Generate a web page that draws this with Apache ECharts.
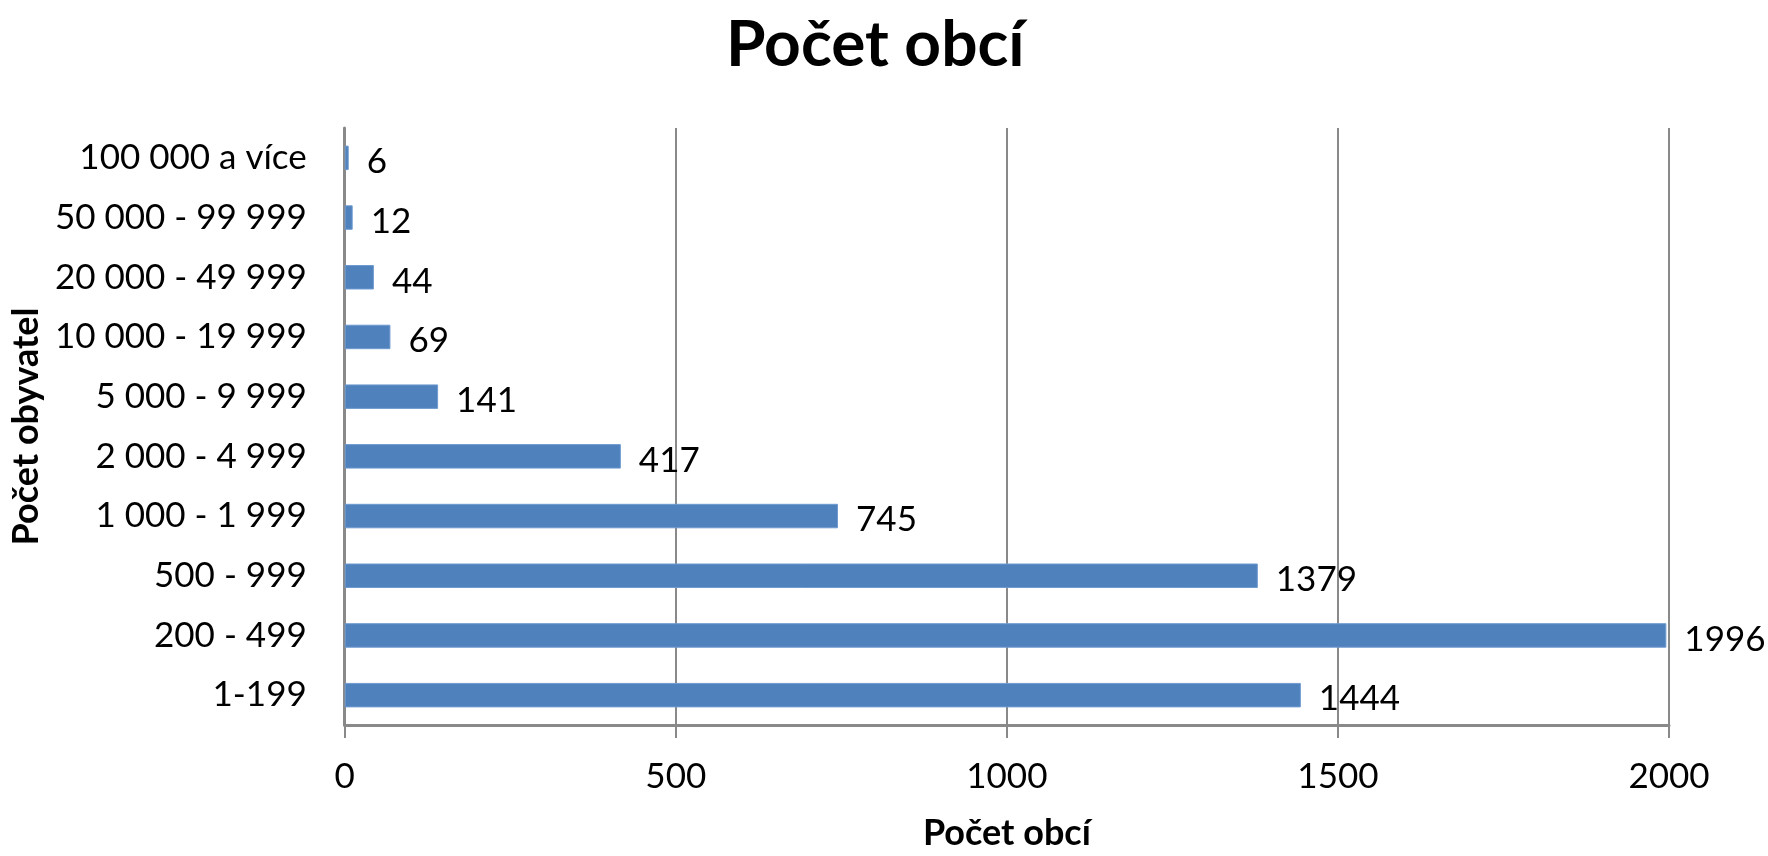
<!DOCTYPE html>
<html>
<head>
<meta charset="utf-8">
<script src="https://cdn.jsdelivr.net/npm/echarts@6/dist/echarts.min.js"></script>
<style>
html,body{margin:0;padding:0;background:#fff;}
#chart{width:1768px;height:856px;}
</style>
</head>
<body>
<div id="chart"></div>
<script>
const titleText = "Počet obcí";
const xAxisName = "Počet obcí";
const yAxisName = "Počet obyvatel";
const categories = ["1-199", "200 - 499", "500 - 999", "1 000 - 1 999", "2 000 - 4 999", "5 000 - 9 999", "10 000 - 19 999", "20 000 - 49 999", "50 000 - 99 999", "100 000 a více"];
const values = [1444, 1996, 1379, 745, 417, 141, 69, 44, 12, 6];
const xTicks = [0, 500, 1000, 1500, 2000];

const chart = echarts.init(document.getElementById('chart'), null, {renderer: 'canvas'});
const font = 'Lato';
chart.setOption({
  backgroundColor: '#ffffff',
  animation: false,
  title: {
    text: titleText,
    left: 721,
    top: 8,
    textStyle: {fontFamily: font, fontWeight: 'bold', fontSize: 64, color: '#000'}
  },
  grid: {left: 344, right: 99, top: 128, bottom: 124, containLabel: false},
  xAxis: {
    type: 'value',
    min: xTicks[0],
    max: xTicks[xTicks.length - 1],
    interval: xTicks[1] - xTicks[0],
    name: xAxisName,
    nameLocation: 'middle',
    nameGap: 90,
    nameTextStyle: {fontFamily: font, fontWeight: 'bold', fontSize: 36, color: '#000'},
    axisLine: {show: true, lineStyle: {color: '#898989', width: 3}},
    axisTick: {show: true, length: 13, lineStyle: {color: '#898989', width: 2}},
    axisLabel: {fontFamily: font, fontSize: 35, color: '#000', margin: 34, formatter: function (v) { return String(v); }},
    splitLine: {show: true, lineStyle: {color: '#898989', width: 2}}
  },
  yAxis: {
    type: 'category',
    data: categories,
    name: yAxisName,
    nameLocation: 'middle',
    nameGap: 290,
    nameTextStyle: {fontFamily: font, fontWeight: 'bold', fontSize: 36, color: '#000'},
    axisLine: {show: true, lineStyle: {color: '#898989', width: 3}},
    axisTick: {show: false},
    axisLabel: {fontFamily: font, fontSize: 35, color: '#000', margin: 38},
    splitLine: {show: false}
  },
  series: [{
    type: 'bar',
    data: values,
    barWidth: '41%',
    itemStyle: {color: '#4F81BD', borderColor: '#6f9ad0', borderWidth: 1},
    label: {
      show: true,
      position: 'right',
      distance: 18,
      offset: [0, 4],
      fontFamily: font,
      fontSize: 35,
      color: '#000'
    }
  }]
});
</script>
</body>
</html>
